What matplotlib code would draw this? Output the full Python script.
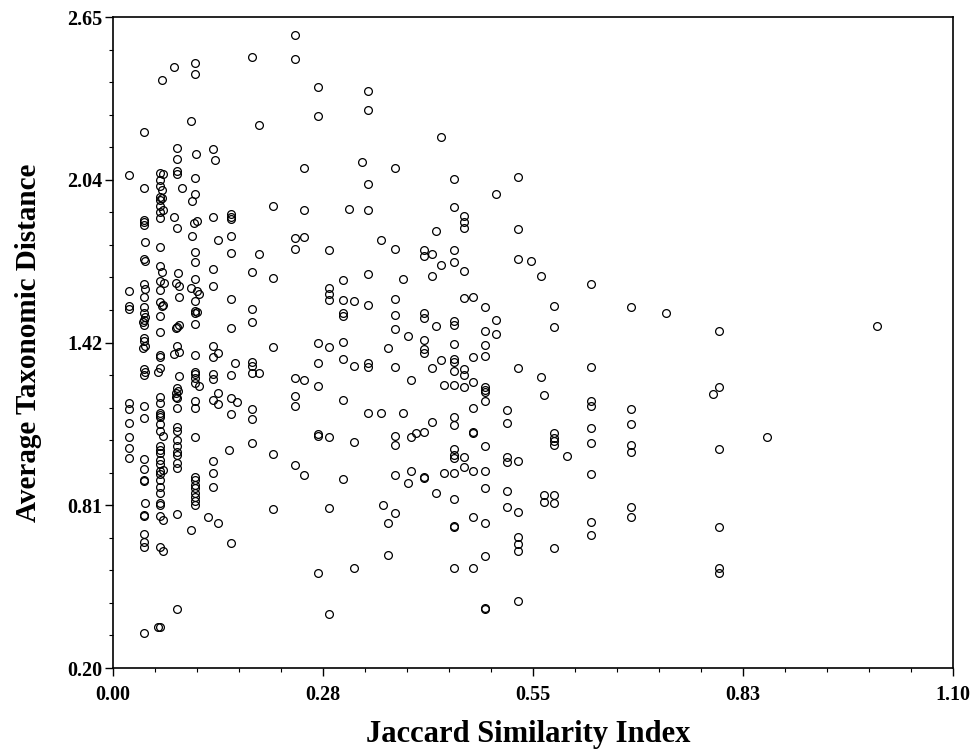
import matplotlib
matplotlib.use('Agg')
import matplotlib.pyplot as plt
from matplotlib.ticker import AutoMinorLocator

plt.rcParams['font.family'] = ['Liberation Serif', 'DejaVu Serif']
plt.rcParams['font.weight'] = 'bold'

# Jaccard index of each column of points, and the taxonomic distances in it
col_x = [0.021, 0.039, 0.040, 0.042, 0.059, 0.0615, 0.064, 0.065, 0.066, 0.067,
         0.080, 0.082, 0.083, 0.084, 0.085, 0.087, 0.091, 0.102, 0.104, 0.106,
         0.107, 0.109, 0.110, 0.112, 0.125, 0.131, 0.134, 0.137, 0.152, 0.1545,
         0.160, 0.163, 0.182, 0.191, 0.210, 0.238, 0.250, 0.269, 0.283, 0.301,
         0.309, 0.316, 0.326, 0.334, 0.351, 0.353, 0.3605, 0.369, 0.380, 0.386,
         0.390, 0.397, 0.407, 0.418, 0.423, 0.4295, 0.434, 0.446, 0.460, 0.472,
         0.487, 0.501, 0.516, 0.530, 0.547, 0.560, 0.564, 0.5775, 0.595, 0.626,
         0.678, 0.724, 0.786, 0.793, 0.857, 1.000]

col_y = [
    [2.055, 1.619, 1.562, 1.550, 1.198, 1.174, 1.123, 1.071, 1.029, 0.990],
    [1.503, 1.406],
    [2.217, 2.007, 1.886, 1.877, 1.867, 1.738, 1.644, 1.597, 1.560, 1.535,
     1.510, 1.491, 1.443, 1.429, 1.324, 1.303, 1.187, 1.142, 0.985, 0.948,
     0.908, 0.904, 0.776, 0.772, 0.703, 0.675, 0.657, 0.333],
    [1.804, 1.733, 1.625, 1.522, 1.412, 1.315, 0.821],
    [1.315, 0.355],
    [2.063, 2.037, 2.015, 1.974, 1.961, 1.938, 1.917, 1.892, 1.786, 1.714,
     1.658, 1.623, 1.576, 1.524, 1.466, 1.378, 1.369, 1.330, 1.221, 1.196,
     1.161, 1.152, 1.146, 1.118, 1.093, 1.036, 1.020, 1.010, 0.983, 0.967,
     0.941, 0.929, 0.908, 0.882, 0.860, 0.820, 0.814, 0.772, 0.657, 0.353],
    [2.413, 2.000, 1.968, 1.690, 1.562],
    [1.566, 1.074, 0.945, 0.757, 0.641],
    [2.059, 1.924],
    [1.650],
    [2.461, 1.896, 1.382],
    [1.236, 1.221],
    [1.650, 1.478],
    [2.158, 2.116, 2.072, 2.059, 1.857, 1.482, 1.412, 1.253, 1.215, 1.178,
     1.106, 1.093, 1.058, 1.036, 1.014, 1.002, 0.973, 0.952, 0.780, 0.423],
    [1.686, 1.244],
    [1.639, 1.597, 1.491, 1.389, 1.300],
    [2.007],
    [2.259, 1.631, 0.719],
    [1.959, 1.827],
    [1.874],
    [2.477, 2.435, 2.045, 1.984, 1.767, 1.727, 1.664, 1.581, 1.544, 1.535,
     1.495, 1.377, 1.315, 1.305, 1.293, 1.271, 1.206, 1.178, 1.071, 0.920,
     0.908, 0.889, 0.876, 0.860, 0.845, 0.830, 0.814],
    [2.133],
    [1.882, 1.619, 1.541],
    [1.606, 1.261],
    [0.769],
    [2.152, 1.896, 1.702, 1.636, 1.412, 1.369, 1.306, 1.286, 1.209, 0.979,
     0.933, 0.882],
    [2.111],
    [1.811, 1.384, 1.234, 1.194, 0.745],
    [1.019],
    [1.908, 1.899, 1.890, 1.827, 1.762, 1.589, 1.478, 1.302, 1.215, 1.155, 0.672],
    [1.349],
    [1.201],
    [2.501, 1.689, 1.550, 1.503, 1.353, 1.337, 1.309, 1.174, 1.138, 1.048],
    [2.245, 1.757, 1.311],
    [1.940, 1.668, 1.409, 1.006, 0.800],
    [2.581, 2.492, 1.817, 1.776, 1.293, 1.224, 1.187, 0.963],
    [2.083, 1.925, 1.823, 1.283, 0.927],
    [2.388, 2.279, 1.424, 1.347, 1.261, 1.080, 1.074, 0.559],
    [1.772, 1.631, 1.606, 1.585, 1.407, 1.069, 0.802, 0.402],
    [1.659, 1.585, 1.537, 1.525, 1.427, 1.362, 1.207, 0.912],
    [1.929],
    [1.582, 1.337, 1.052, 0.576],
    [2.104],
    [2.371, 2.301, 2.022, 1.925, 1.682, 1.567, 1.347, 1.332, 1.161],
    [1.811, 1.161],
    [0.812],
    [1.404, 0.745, 0.624],
    [2.083, 1.776, 1.588, 1.530, 1.477, 1.334, 1.072, 1.038, 0.925, 0.782],
    [1.664, 1.161],
    [1.451, 0.895],
    [1.284, 1.071, 0.940],
    [1.083],
    [1.772, 1.749, 1.535, 1.518, 1.433, 1.399, 1.384, 1.088, 0.920, 0.915],
    [1.759, 1.674, 1.330, 1.126],
    [1.845, 1.488, 0.857],
    [2.197, 1.717, 1.359],
    [1.266, 0.934],
    [2.040, 1.934, 1.773, 1.727, 1.505, 1.491, 1.419, 1.362, 1.353, 1.319,
     1.266, 1.144, 1.115, 1.023, 1.003, 0.991, 0.934, 0.835, 0.736, 0.732, 0.575],
    [1.901, 1.879, 1.855, 1.693, 1.592, 1.326, 1.302, 1.258, 0.995, 0.958],
    [1.596, 1.372, 1.275, 1.180, 1.089, 1.086, 0.940, 0.769, 0.575],
    [1.560, 1.470, 1.414, 1.375, 1.256, 1.246, 1.240, 1.204, 1.036, 0.941,
     0.879, 0.745, 0.620, 0.427, 0.421],
    [1.983, 1.510, 1.456],
    [1.171, 1.121, 0.995, 0.974, 0.867, 0.807],
    [2.049, 1.852, 1.738, 1.328, 0.980, 0.787, 0.694, 0.666, 0.641, 0.453],
    [1.733],
    [1.677, 1.295],
    [1.227, 0.852, 0.824],
    [1.562, 1.483, 1.086, 1.064, 1.055, 1.038, 0.852, 0.822, 0.652],
    [0.999],
    [1.644, 1.334, 1.206, 1.186, 1.102, 1.048, 0.929, 0.748, 0.699],
    [1.560, 1.174, 1.118, 1.038, 1.013, 0.807, 0.769],
    [1.535],
    [1.231],
    [1.467, 1.259, 1.024, 0.732, 0.575, 0.556],
    [1.071],
    [1.486],
]

x_ticks = [0.0, 0.275, 0.55, 0.825, 1.1]
x_labels = ['0.00', '0.28', '0.55', '0.83', '1.10']
y_ticks = [0.2, 0.8125, 1.425, 2.0375, 2.65]
y_labels = ['0.20', '0.81', '1.42', '2.04', '2.65']

jaccard = []
distance = []
for x, ys in zip(col_x, col_y):
    jaccard += [x] * len(ys)
    distance += ys

fig = plt.figure(figsize=(9.74, 7.51), dpi=100)
ax = fig.add_axes([0.116, 0.1105, 0.8624, 0.8668])

ax.plot(jaccard, distance, linestyle='none', marker='o', markersize=5.6,
        markerfacecolor='none', markeredgecolor='black', markeredgewidth=0.9)

ax.set_xlim(0, 1.1)
ax.set_ylim(0.2, 2.65)
ax.set_xticks(x_ticks)
ax.set_xticklabels(x_labels)
ax.set_yticks(y_ticks)
ax.set_yticklabels(y_labels)
ax.xaxis.set_minor_locator(AutoMinorLocator(5))
ax.yaxis.set_minor_locator(AutoMinorLocator(5))
ax.tick_params(which='major', direction='out', length=6, width=1, labelsize=14.5)
ax.tick_params(axis='x', which='major', pad=6)
ax.tick_params(axis='y', which='major', pad=1.5)
ax.tick_params(which='minor', direction='out', length=3, width=0.8)
for s in ax.spines.values():
    s.set_linewidth(1.2)

ax.set_xlabel('Jaccard Similarity Index', fontsize=22, fontweight='bold')
ax.set_ylabel('Average Taxonomic Distance', fontsize=21, fontweight='bold')
ax.xaxis.set_label_coords(0.494, -0.102)
ax.yaxis.set_label_coords(-0.101, 0.5)
ax.xaxis.label.set_va('center')
ax.yaxis.label.set_va('center')

fig.savefig('out.png', dpi=100)
plt.close(fig)
